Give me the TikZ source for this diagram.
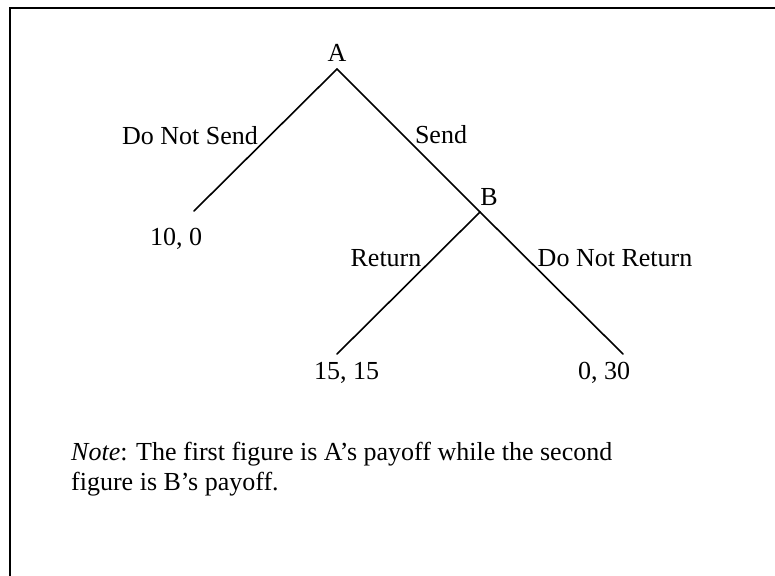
\documentclass[tikz,border=0pt]{standalone}
\usepackage{fontspec}
\setmainfont{Liberation Serif}
\begin{document}
\begin{tikzpicture}[x=1pt,y=-1pt,
  lbl/.style={inner sep=0pt,anchor=base,font=\fontsize{26}{30}\selectfont},
  branch/.style={line width=1.6pt,line cap=round}]
\useasboundingbox (0,0) rectangle (775,575);
% frame (continues past the page edge on the right and bottom)
\begin{scope}
\clip (0,0) rectangle (775,575);
\draw[line width=2.4pt] (10,8) rectangle (800,600);
\end{scope}

% decision points and outcomes
\coordinate (nA) at (337,69);
\coordinate (nB) at (480,212);
\coordinate (out1) at (194,211);
\coordinate (out2) at (337,354);
\coordinate (out3) at (623,354);

\draw[branch] (nA) -- (out1);
\draw[branch] (nA) -- (nB);
\draw[branch] (nB) -- (out2);
\draw[branch] (nB) -- (out3);

% player labels
\node[lbl] (labA) at (337,62) {A};
\node[lbl] (labB) at (489,205) {B};

% action labels
\node[lbl] (dns) at (190,144) {Do Not Send};
\node[lbl] (snd) at (441,143) {Send};
\node[lbl] (ret) at (386,266) {Return};
\node[lbl] (dnr) at (615,266) {Do Not Return};

% payoffs
\node[lbl] (p1) at (176,245) {10, 0};
\node[lbl] (p2) at (346.5,379) {15, 15};
\node[lbl] (p3) at (604,379) {0, 30};

% note
\node[lbl,anchor=base west,align=left] (note) at (71,490)
  {\textit{Note}: The first figure is A’s payoff while the second\\figure is B’s payoff.};
\end{tikzpicture}
\end{document}
